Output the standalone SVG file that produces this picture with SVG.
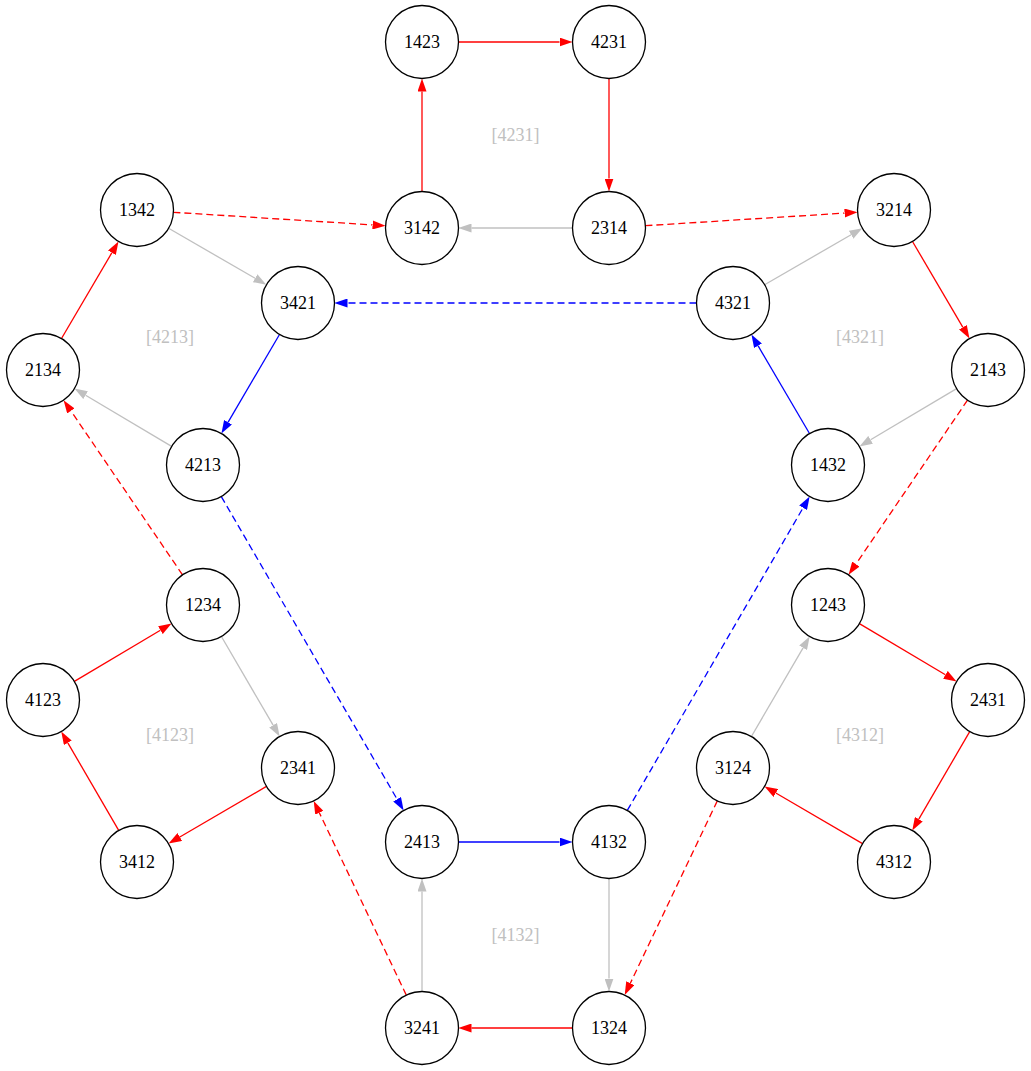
<svg xmlns="http://www.w3.org/2000/svg" width="1031" height="1071" viewBox="0 0 1031 1071">
<style>
.node circle{fill:#fff;stroke:#000;stroke-width:1.3}
.node text{font-family:"Liberation Serif",serif;font-size:18px;fill:#000;text-anchor:middle}
.lbl{font-family:"Liberation Serif",serif;font-size:18px;fill:#c0c0c0;text-anchor:middle}
.e{fill:none;stroke-width:1.3}
.r{stroke:#ff0000;marker-end:url(#ar)}
.b{stroke:#0000ff;marker-end:url(#ab)}
.g{stroke:#c0c0c0;marker-end:url(#ag)}
.d{stroke-dasharray:7,4}
</style>
<defs>
<marker id="ar" viewBox="0 0 13 9" refX="0" refY="4.5" markerUnits="userSpaceOnUse" markerWidth="13" markerHeight="9" orient="auto"><path d="M0,0L13,4.5L0,9z" fill="#ff0000"/></marker>
<marker id="ab" viewBox="0 0 13 9" refX="0" refY="4.5" markerUnits="userSpaceOnUse" markerWidth="13" markerHeight="9" orient="auto"><path d="M0,0L13,4.5L0,9z" fill="#0000ff"/></marker>
<marker id="ag" viewBox="0 0 13 9" refX="0" refY="4.5" markerUnits="userSpaceOnUse" markerWidth="13" markerHeight="9" orient="auto"><path d="M0,0L13,4.5L0,9z" fill="#c0c0c0"/></marker>
</defs>
<rect width="1031" height="1071" fill="#fff"/>
<g id="labels">
<text class="lbl" x="515.5" y="141">[4231]</text>
<text class="lbl" x="170" y="343">[4213]</text>
<text class="lbl" x="860" y="343">[4321]</text>
<text class="lbl" x="170" y="741">[4123]</text>
<text class="lbl" x="860" y="741">[4312]</text>
<text class="lbl" x="515.5" y="941">[4132]</text>
</g>
<g id="edges">
<path class="e r" d="M458.5,42L559.5,42"/>
<path class="e r" d="M609,78.5L609,178.5"/>
<path class="e g" d="M572.5,228L471.5,228"/>
<path class="e r" d="M422,191.5L422,91.5"/>
<path class="e r d" d="M173.4,212.3L372.6,224.9"/>
<path class="e r d" d="M645.4,225.7L844.6,213.1"/>
<path class="e g" d="M168.6,228.3L255.1,278.25"/>
<path class="e g" d="M764.6,284.75L851.1,234.75"/>
<path class="e b d" d="M696.5,303L347.5,303"/>
<path class="e r" d="M912.5,241.5L962.9,327.3"/>
<path class="e g" d="M956.6,388.6L870.6,439.8"/>
<path class="e b" d="M809.5,433.5L758,345.7"/>
<path class="e r" d="M61.5,338.5L111.9,252.7"/>
<path class="e g" d="M171.6,446.4L85.6,395.2"/>
<path class="e b" d="M279.5,334.5L228,422.3"/>
<path class="e r d" d="M182.5,574.8L70.9,410.9"/>
<path class="e b d" d="M221.3,496.6L397.1,799.2"/>
<path class="e r d" d="M967.5,400.2L855.9,564.1"/>
<path class="e b d" d="M627.3,810.4L803.1,507.8"/>
<path class="e r" d="M859.4,623.6L945.4,674.8"/>
<path class="e r" d="M969.7,731.6L918.8,819.2"/>
<path class="e r" d="M862.5,843.6L775.8,793"/>
<path class="e g" d="M751.4,736.5L803.1,647.8"/>
<path class="e r d" d="M717.3,800.9L630.3,983.3"/>
<path class="e r" d="M74.4,681.4L160.4,630.2"/>
<path class="e g" d="M221.4,636.5L273.1,725.2"/>
<path class="e r" d="M266.5,786.4L179.8,837"/>
<path class="e r" d="M118.7,830.4L67.8,742.8"/>
<path class="e b" d="M458.5,842L559.5,842"/>
<path class="e g" d="M609,878.5L609,978.5"/>
<path class="e r" d="M572.5,1028L471.5,1028"/>
<path class="e g" d="M422,991.5L422,891.5"/>
<path class="e r d" d="M406.3,995.1L319.3,812.7"/>
</g>
<g id="n1423" class="node"><circle cx="422" cy="42" r="36.5"/><text x="422" y="48">1423</text></g>
<g id="n4231" class="node"><circle cx="609" cy="42" r="36.5"/><text x="609" y="48">4231</text></g>
<g id="n3142" class="node"><circle cx="422" cy="228" r="36.5"/><text x="422" y="234">3142</text></g>
<g id="n2314" class="node"><circle cx="609" cy="228" r="36.5"/><text x="609" y="234">2314</text></g>
<g id="n1342" class="node"><circle cx="137" cy="210" r="36.5"/><text x="137" y="216">1342</text></g>
<g id="n3214" class="node"><circle cx="894" cy="210" r="36.5"/><text x="894" y="216">3214</text></g>
<g id="n3421" class="node"><circle cx="298" cy="303" r="36.5"/><text x="298" y="309">3421</text></g>
<g id="n4321" class="node"><circle cx="733" cy="303" r="36.5"/><text x="733" y="309">4321</text></g>
<g id="n2134" class="node"><circle cx="43" cy="370" r="36.5"/><text x="43" y="376">2134</text></g>
<g id="n2143" class="node"><circle cx="988" cy="370" r="36.5"/><text x="988" y="376">2143</text></g>
<g id="n4213" class="node"><circle cx="203" cy="465" r="36.5"/><text x="203" y="471">4213</text></g>
<g id="n1432" class="node"><circle cx="828" cy="465" r="36.5"/><text x="828" y="471">1432</text></g>
<g id="n1234" class="node"><circle cx="203" cy="605" r="36.5"/><text x="203" y="611">1234</text></g>
<g id="n1243" class="node"><circle cx="828" cy="605" r="36.5"/><text x="828" y="611">1243</text></g>
<g id="n4123" class="node"><circle cx="43" cy="700" r="36.5"/><text x="43" y="706">4123</text></g>
<g id="n2431" class="node"><circle cx="988" cy="700" r="36.5"/><text x="988" y="706">2431</text></g>
<g id="n2341" class="node"><circle cx="298" cy="768" r="36.5"/><text x="298" y="774">2341</text></g>
<g id="n3124" class="node"><circle cx="733" cy="768" r="36.5"/><text x="733" y="774">3124</text></g>
<g id="n3412" class="node"><circle cx="137" cy="862" r="36.5"/><text x="137" y="868">3412</text></g>
<g id="n4312" class="node"><circle cx="894" cy="862" r="36.5"/><text x="894" y="868">4312</text></g>
<g id="n2413" class="node"><circle cx="422" cy="842" r="36.5"/><text x="422" y="848">2413</text></g>
<g id="n4132" class="node"><circle cx="609" cy="842" r="36.5"/><text x="609" y="848">4132</text></g>
<g id="n3241" class="node"><circle cx="422" cy="1028" r="36.5"/><text x="422" y="1034">3241</text></g>
<g id="n1324" class="node"><circle cx="609" cy="1028" r="36.5"/><text x="609" y="1034">1324</text></g>
</svg>
